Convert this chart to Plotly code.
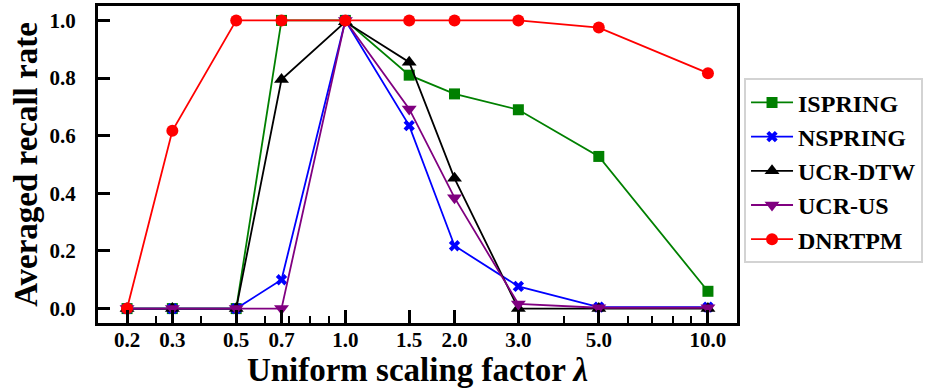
import numpy as np
import plotly.graph_objects as go

# scaling factors (plotted on a log axis), labels are rounded to one decimal
scale_factors = [1/4, 1/3, 1/2, 2/3, 1.0, 3/2, 2.0, 3.0, 5.0, 10.0]
tick_labels = ["0.2", "0.3", "0.5", "0.7", "1.0", "1.5", "2.0", "3.0", "5.0", "10.0"]

ispring = [0.0, 0.0, 0.0, 1.0, 1.0, 0.81, 0.745, 0.69, 0.528, 0.06]
nspring = [0.0, 0.0, 0.0, 0.10, 1.0, 0.635, 0.218, 0.077, 0.005, 0.005]
ucr_dtw = [0.0, 0.0, 0.0, 0.795, 0.995, 0.855, 0.452, 0.0, 0.0, 0.0]
ucr_us = [0.0, 0.0, 0.0, 0.0, 1.0, 0.693, 0.385, 0.016, 0.003, 0.003]
dnrtpm = [0.0, 0.617, 1.0, 1.0, 1.0, 1.0, 1.0, 1.0, 0.975, 0.817]

series = [
    ("ISPRING", ispring, "green", "square", 11),
    ("NSPRING", nspring, "blue", "x", 10),
    ("UCR-DTW", ucr_dtw, "black", "triangle-up", 13),
    ("UCR-US", ucr_us, "purple", "triangle-down", 13),
    ("DNRTPM", dnrtpm, "red", "circle", 12),
]

fig = go.Figure()
for name, vals, color, symbol, size in series:
    fig.add_trace(go.Scatter(
        x=scale_factors, y=vals, name=name, mode="lines+markers",
        line=dict(color=color, width=1.8),
        marker=dict(symbol=symbol, size=size, color=color, line=dict(width=0)),
    ))

# log range with 5% padding, as matplotlib does
lo, hi = np.log10(min(scale_factors)), np.log10(max(scale_factors))
pad = 0.05 * (hi - lo)

minor_vals = [0.3, 0.4, 0.6, 0.7, 0.8, 0.9, 4, 6, 7, 8, 9]

fig.update_xaxes(
    type="log", range=[lo - pad, hi + pad], automargin=False,
    tickvals=scale_factors, ticktext=tick_labels, tickfont=dict(size=21),
    ticks="inside", ticklen=13, tickwidth=3, tickcolor="black", ticklabelstandoff=-4,
    minor=dict(tickvals=minor_vals, ticks="inside", ticklen=7, tickwidth=2, tickcolor="black"),
    showline=True, linewidth=3, linecolor="black", mirror=True,
    showgrid=False, zeroline=False,
    title=dict(text="Uniform scaling factor <i>λ</i>", font=dict(size=33), standoff=0),
)
fig.update_yaxes(
    range=[-0.05, 1.05], tickvals=[0, 0.2, 0.4, 0.6, 0.8, 1.0], tickformat=".1f",
    tickfont=dict(size=21), automargin=False, ticklabelstandoff=15,
    ticks="inside", ticklen=12, tickwidth=3, tickcolor="black",
    showline=True, linewidth=3, linecolor="black", mirror=True,
    showgrid=False, zeroline=False,
    title=dict(text="Averaged recall rate", font=dict(size=33), standoff=2),
)

fig.update_layout(
    width=938, height=391,
    margin=dict(l=98, r=201, t=6, b=68),
    plot_bgcolor="white", paper_bgcolor="white",
    font=dict(family="Times New Roman, Liberation Serif, serif", size=20, color="black", weight="bold"),
    legend=dict(
        x=1.011, y=0.772, xanchor="left", yanchor="top",
        bordercolor="#d3d3d3", borderwidth=2, bgcolor="white",
        font=dict(size=24), itemwidth=42, entrywidth=128,
    ),
)

# drop the default page margin so the figure sits at the window's corner
fig.write_html("out.html", config={"displayModeBar": False},
               post_script="document.body.style.margin='0';")
